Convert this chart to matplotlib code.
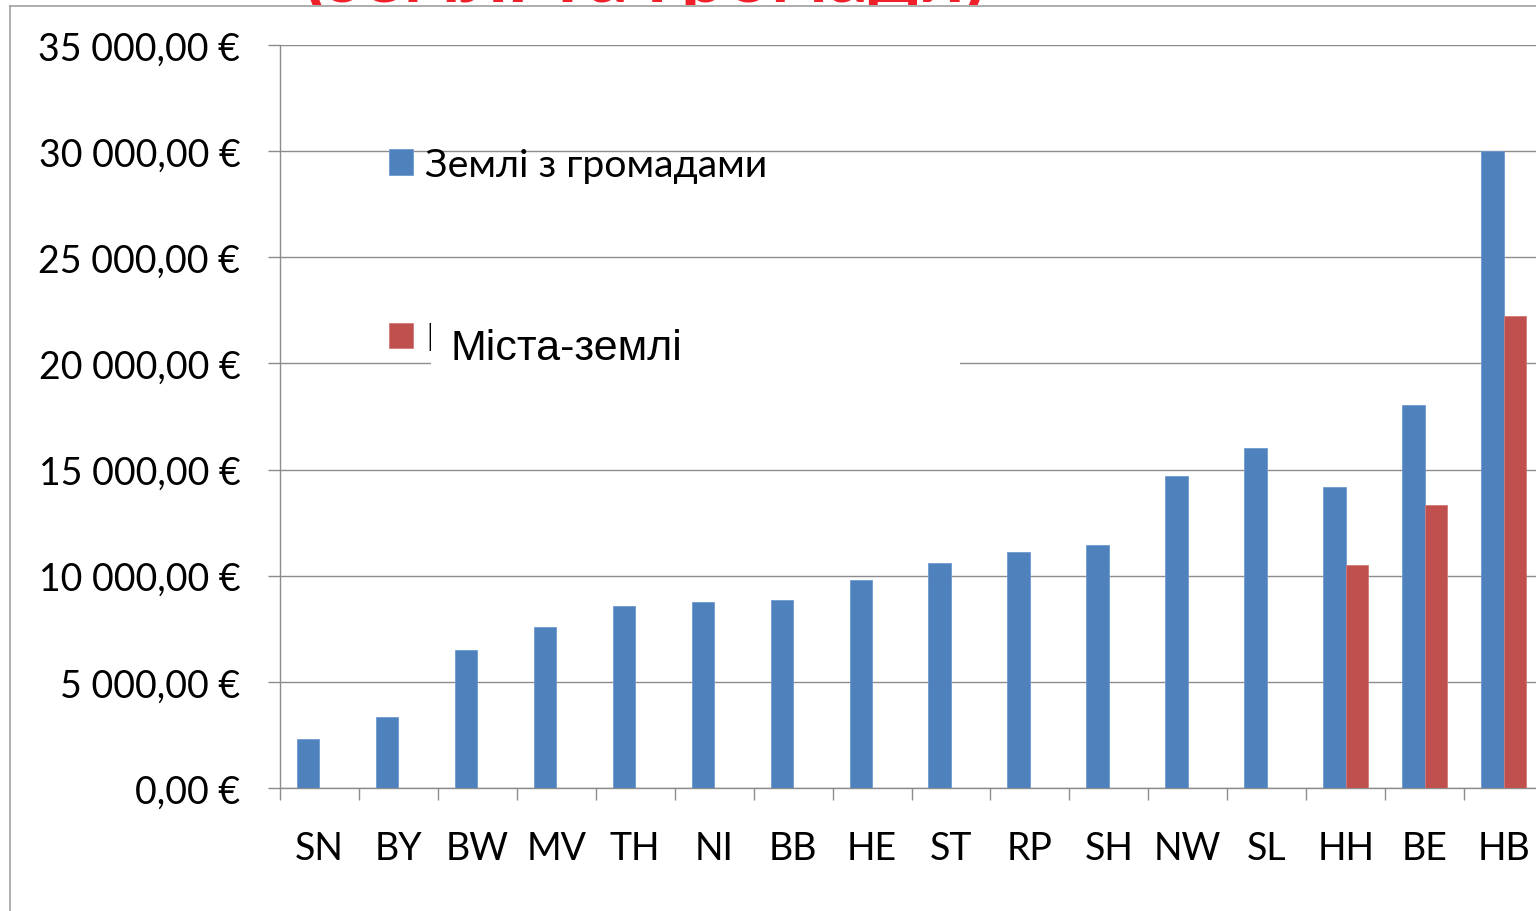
import matplotlib.pyplot as plt
from matplotlib.patches import Rectangle
from matplotlib.lines import Line2D
from matplotlib.transforms import Bbox, TransformedBbox
from matplotlib.ticker import FuncFormatter, MultipleLocator
import numpy as np

# дані
lands = ['SN', 'BY', 'BW', 'MV', 'TH', 'NI', 'BB', 'HE', 'ST', 'RP', 'SH', 'NW', 'SL', 'HH', 'BE', 'HB']
with_communes = [2300, 3350, 6500, 7600, 8550, 8750, 8850, 9800, 10600, 11100, 11450, 14700, 16000, 14200, 18050, 30000]
city_states = [0, 0, 0, 0, 0, 0, 0, 0, 0, 0, 0, 0, 0, 10500, 13350, 22250]
series_names = ['Землі з громадами', 'Міста-землі']
title = '(землі та громади)'

blue = '#4F81BD'
red = '#C0504D'
grid_c = '#8C8C8C'

plt.rcParams['font.family'] = ['Lato', 'DejaVu Sans']

W, H = 1536, 912
fig = plt.figure(figsize=(W / 100, H / 100), dpi=100)
ax = fig.add_axes([280 / W, 1 - 789 / H, 1263 / W, (789 - 46) / H])

x = np.arange(len(lands))
bw = 0.285
b1 = ax.bar(x - bw / 2, with_communes, bw, color=blue, edgecolor='#6f9bd0', linewidth=0.6, zorder=3)
b2 = ax.bar(x + bw / 2, city_states, bw, color=red, edgecolor='#d07a78', linewidth=0.6, zorder=3)

ax.set_xlim(-0.5, len(lands) - 0.5)
ax.set_ylim(0, 35000)

ax.yaxis.set_major_locator(MultipleLocator(5000))
ax.yaxis.set_major_formatter(FuncFormatter(lambda v, p: f'{int(v):,}'.replace(',', ' ') + ',00 €'))
ax.grid(axis='y', color=grid_c, linewidth=1.0, zorder=0)
ax.tick_params(axis='y', direction='out', length=8.6, width=1.0, color=grid_c, pad=20, labelsize=27)

ax.set_xticks(x)
ax.set_xticklabels(lands)
ax.set_xticks(np.arange(len(lands) + 1) - 0.5, minor=True)
ax.tick_params(axis='x', which='major', length=0, pad=30, labelsize=27)
ax.tick_params(axis='x', which='minor', direction='out', length=8.6, width=1.0, color=grid_c)

for s in ['top', 'right']:
    ax.spines[s].set_visible(False)
for s in ['left', 'bottom']:
    ax.spines[s].set_color(grid_c)
    ax.spines[s].set_linewidth(1.0)

# рамка слайду
fig.add_artist(Line2D([10 / W, 10 / W], [0, 1 - 7 / H], transform=fig.transFigure, color='#A0A0A0', linewidth=1.2))
fig.add_artist(Line2D([10 / W, 1], [1 - 7 / H, 1 - 7 / H], transform=fig.transFigure, color='#A0A0A0', linewidth=1.2))

# заголовок, обрізаний зверху і знизу
t = fig.text(645 / W, 1 - 2 / H, title, ha='center', va='baseline', color='#F0202A',
             fontsize=57, fontweight='bold')
t.set_clip_box(TransformedBbox(Bbox([[0, 1 - 6 / H], [1, 1]]), fig.transFigure))
t.set_clip_on(True)

leg = ax.legend([b1, b2], series_names, loc='upper left', bbox_to_anchor=(389 / W, 1 - 148 / H),
                bbox_transform=fig.transFigure, frameon=False, fontsize=28.3, borderpad=0,
                borderaxespad=0, handlelength=0.62, handleheight=0.62, handletextpad=0.3,
                labelspacing=3.5)

# біле текстове поле поверх легенди
fig.add_artist(Rectangle((431 / W, 1 - 380 / H), (960 - 431) / W, 80 / H, transform=fig.transFigure,
                         facecolor='white', edgecolor='none', zorder=5))
fig.text(451 / W, 1 - 360 / H, 'Міста-землі', family=['Liberation Sans', 'DejaVu Sans'],
         fontsize=31, va='baseline', ha='left', zorder=6)

fig.savefig('out.png', dpi=100)
